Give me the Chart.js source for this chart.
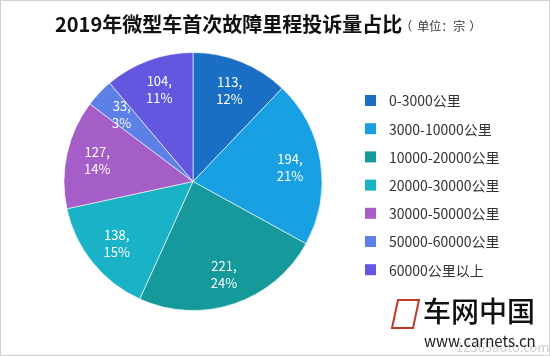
<!DOCTYPE html>
<html><head><meta charset="utf-8">
<script src="https://cdn.jsdelivr.net/npm/chart.js@4/dist/chart.umd.min.js"></script>
<style>
html,body{margin:0;padding:0;background:#fff;}
#wrap{position:relative;width:550px;height:356px;box-sizing:border-box;border:1px solid #d0d0d0;}
canvas{position:absolute;left:0;top:0;}
</style></head>
<body><div id="wrap"><canvas id="c" width="550" height="356"></canvas></div>
<script>
const titleMain = "2019年微型车首次故障里程投诉量占比";
const titleUnit = "（单位：宗）";
const categories = ["0-3000公里","3000-10000公里","10000-20000公里","20000-30000公里","30000-50000公里","50000-60000公里","60000公里以上"];
const values = [113,194,221,138,127,33,104];
const percentLabels = ["12%","21%","24%","15%","14%","3%","11%"];
const colors = ["#1a6fc4","#18a0e2","#16999a","#19b2c6","#a55ec8","#5c80e6","#6357e0"];
const FONT = "'Noto Sans CJK SC','Noto Sans',sans-serif";

const extras = {
  id:'extras',
  afterDatasetsDraw(chart){
    const ctx = chart.ctx;
    const meta = chart.getDatasetMeta(0);
    ctx.save();
    ctx.fillStyle = '#fff';
    ctx.font = "13px " + FONT;
    ctx.textAlign = 'center';
    ctx.textBaseline = 'middle';
    meta.data.forEach((arc,i)=>{
      const p = arc.getProps(['x','y','startAngle','endAngle','outerRadius'],true);
      const mid = (p.startAngle+p.endAngle)/2;
      const r = p.outerRadius*0.76;
      const x = p.x + Math.cos(mid)*r, y = p.y + Math.sin(mid)*r;
      ctx.fillText(values[i]+",", x, y-8);
      ctx.fillText(percentLabels[i], x, y+9);
    });
    ctx.restore();
  },
  afterDraw(chart){
    const ctx = chart.ctx;
    ctx.save();
    // title
    ctx.fillStyle = '#111';
    ctx.textBaseline = 'middle';
    ctx.textAlign = 'left';
    ctx.font = "bold 20px " + FONT;
    ctx.fillText(titleMain, 54, 23);
    const w1 = ctx.measureText(titleMain).width;
    ctx.font = "12px " + FONT;
    ctx.fillStyle = '#333';
    const parts = titleUnit.split("");
    ctx.fillText(parts[0], 54 + w1 - 2, 25);
    ctx.fillText(parts.slice(1, parts.length-1).join(""), 54 + w1 + 15, 25);
    ctx.fillText(parts[parts.length-1], 54 + w1 + 67, 25);
    // legend
    categories.forEach((c,i)=>{
      const y = 99 + i*28.2;
      ctx.fillStyle = colors[i];
      ctx.fillRect(364, y-5, 11, 11);
      ctx.fillStyle = '#333';
      ctx.font = "14px " + FONT;
      ctx.fillText(c, 388, y+1);
    });
    // watermark
    ctx.strokeStyle = '#c0392b';
    ctx.lineWidth = 2;
    ctx.beginPath();
    ctx.moveTo(397,299); ctx.lineTo(418,299); ctx.lineTo(412,327); ctx.lineTo(391,327); ctx.closePath();
    ctx.stroke();
    ctx.fillStyle = 'rgba(160,160,160,0.5)';
    ctx.font = "13px " + FONT;
    ctx.fillText("12365auto.com", 455, 346);
    ctx.fillStyle = '#111';
    ctx.font = "500 28px " + FONT;
    ctx.fillText("车网中国", 422, 310);
    ctx.fillStyle = '#222';
    ctx.font = "15px " + FONT;
    ctx.fillText("www.carnets.cn", 423, 340);
    ctx.restore();
  }
};

new Chart(document.getElementById('c'), {
  type:'pie',
  data:{labels:categories, datasets:[{data:values, backgroundColor:colors, borderColor:'rgba(255,255,255,0.6)', borderWidth:1}]},
  options:{
    responsive:false, animation:false, events:[],
    layout:{padding:{left:62,top:51,right:228,bottom:46}},
    plugins:{legend:{display:false}, tooltip:{enabled:false}, title:{display:false}}
  },
  plugins:[extras]
});
</script></body></html>
